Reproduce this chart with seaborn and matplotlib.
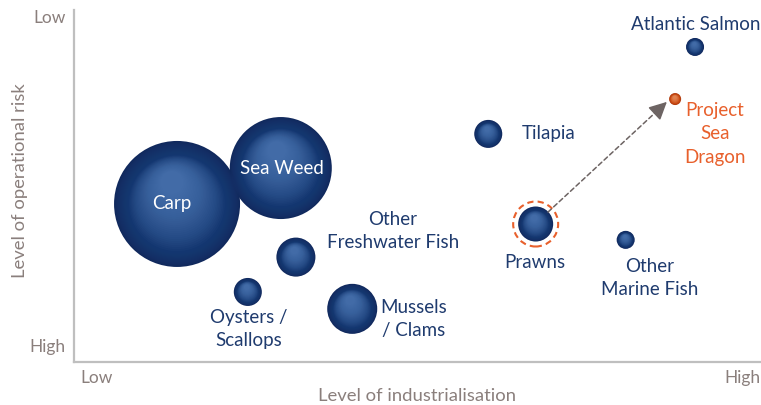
import numpy as np
import pandas as pd
import matplotlib
matplotlib.use("Agg")
import matplotlib.pyplot as plt
import matplotlib.transforms as mtransforms
import seaborn as sns

# ---- data ----
species = ["Carp", "Sea Weed", "Other Freshwater Fish", "Oysters / Scallops",
           "Mussels / Clams", "Tilapia", "Prawns", "Other Marine Fish",
           "Atlantic Salmon", "Project Sea Dragon"]
industrialisation = [15.0, 30.1, 32.3, 25.3, 40.5, 60.3, 67.2, 80.3, 90.4, 87.5]
risk = [44.9, 55.1, 29.8, 19.9, 15.1, 64.8, 39.2, 34.7, 89.5, 74.7]
bubble_radius = [63, 51, 19.5, 14, 25, 14, 17.5, 9, 9, 6]  # relative production (radius units)
labels = ["Carp", "Sea Weed", "Other\nFreshwater Fish", "Oysters /\nScallops",
          "Mussels\n/ Clams", "Tilapia", "Prawns", "Other\nMarine Fish",
          "Atlantic Salmon", "Project\nSea\nDragon"]
label_x = [14.3, 30.3, 46.4, 25.4, 49.5, 65.2, 67.1, 83.8, 90.5, 93.3]
label_y = [44.9, 55.1, 37.2, 9.4, 12.2, 64.8, 28.4, 23.8, 96.0, 64.8]
label_ha = ["center"] * 5 + ["left"] + ["center"] * 4
x_ticklabels = ["Low", "High"]
y_ticklabels = ["High", "Low"]
arrow_start = (69.0, 42.6)
arrow_end = (86.3, 73.9)

df = pd.DataFrame({"species": species, "x": industrialisation, "y": risk, "r": bubble_radius})

W, H, DPI = 761, 405, 100
sns.set_theme(style="white")
plt.rcParams["font.family"] = ["Lato", "DejaVu Sans"]

fig = plt.figure(figsize=(W / DPI, H / DPI), dpi=DPI)
ax = fig.add_axes([74 / W, (405 - 362) / H, (761 - 74) / W, 352 / H])
ax.set_xlim(0, 100)
ax.set_ylim(0, 100)

px2pt = 72 / DPI
navy = "#1f427c"
orange = "#e8602c"

def area(r):
    return (2 * r * px2pt) ** 2

colors = [navy] * 9 + ["#d9541c"]
sizes = {s: area(r) for s, r in zip(species, bubble_radius)}
palette = {s: "#10285c" if c == navy else "#a8380f" for s, c in zip(species, colors)}
# base (rim) bubbles
sns.scatterplot(data=df, x="x", y="y", hue="species", size="species", sizes=sizes,
                palette=palette, legend=False, ax=ax, edgecolor="none", zorder=2)

# shading layers (sphere look)
N = 30
for s, x, y, r, c in zip(species, industrialisation, risk, bubble_radius, colors):
    light = "#5f8cc8" if c == navy else "#f7a878"
    # body: fades gradually from rim to body colour
    for k in range(N):
        t = k / N
        rr = r * (0.99 - 0.4 * t)
        ax.scatter([x], [y], s=area(rr), color=c, edgecolor="none", alpha=0.08, zorder=3)
    # highlight: upper-centre soft glow
    for k in range(N):
        t = (k + 1) / N
        rr = r * (0.78 - 0.6 * t)
        dx = -0.08 * r * t / DPI
        dy = 0.34 * r * t / DPI
        tr = ax.transData + mtransforms.ScaledTranslation(dx, dy, fig.dpi_scale_trans)
        ax.scatter([x], [y], s=area(rr), color=light, edgecolor="none",
                   transform=tr, zorder=3, alpha=0.045)

# dashed highlight ring around prawns
pi = species.index("Prawns")
ax.scatter([industrialisation[pi]], [risk[pi]], s=area(22.5), facecolor="none",
           edgecolor=orange, linewidth=1.5, linestyle=(0, (3, 2)), zorder=4)

# arrow
ax.annotate("", xy=arrow_end, xytext=arrow_start,
            arrowprops=dict(arrowstyle="-", color="#6d6463", lw=1.1, ls=(0, (3, 2)),
                            shrinkA=0, shrinkB=6), zorder=5)
ax.annotate("", xy=arrow_end, xytext=(arrow_end[0] - 1.2, arrow_end[1] - 2.2),
            arrowprops=dict(arrowstyle="-|>,head_length=0.9,head_width=0.45",
                            color="#6d6463", lw=1.1, shrinkA=0, shrinkB=0), zorder=5)

# labels
for lab, lx, ly, ha, s in zip(labels, label_x, label_y, label_ha, species):
    if s in ("Carp", "Sea Weed"):
        col = "white"
    elif s == "Project Sea Dragon":
        col = orange
    else:
        col = "#1f3b6e"
    ax.text(lx, ly, lab, ha=ha, va="center", color=col, fontsize=13.5,
            linespacing=1.45, zorder=6, multialignment="center")

# axes styling
for sp in ["top", "right"]:
    ax.spines[sp].set_visible(False)
for sp in ["left", "bottom"]:
    ax.spines[sp].set_color("#bfbfbf")
    ax.spines[sp].set_linewidth(1.6)
    ax.spines[sp].set_zorder(1)

gray = "#8a7f7c"
ax.set_xticks([1, 100])
ax.set_xticklabels(x_ticklabels, color=gray, fontsize=12.5)
ax.set_yticks([2, 100])
ax.set_yticklabels(y_ticklabels, color=gray, fontsize=12.5)
xt = ax.get_xticklabels()
xt[0].set_ha("left"); xt[1].set_ha("right")
yt = ax.get_yticklabels()
yt[0].set_va("bottom"); yt[1].set_va("top")
ax.tick_params(length=0, pad=6)
ax.set_xlabel("Level of industrialisation", color=gray, fontsize=13.3, labelpad=1)
ax.set_ylabel("Level of operational risk", color=gray, fontsize=13.3)
ax.yaxis.set_label_coords((20 - 74) / (761 - 74), (362 - 181) / 352)
ax.yaxis.label.set_va("center")
ax.set_facecolor("white")

fig.savefig("out.png", dpi=DPI)
